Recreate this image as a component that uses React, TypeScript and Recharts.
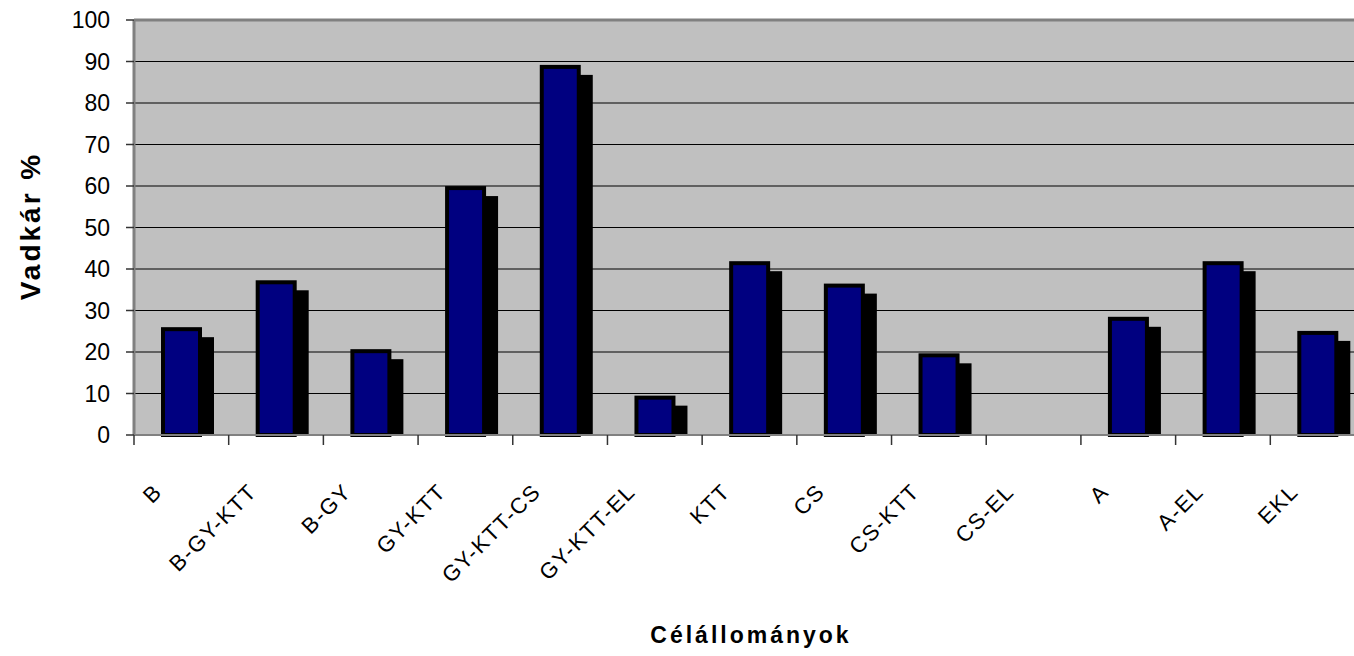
import React from 'react';
import { BarChart, Bar, XAxis, YAxis, CartesianGrid, ReferenceLine, Label, Text } from 'recharts';

const categories = ['B', 'B-GY-KTT', 'B-GY', 'GY-KTT', 'GY-KTT-CS', 'GY-KTT-EL', 'KTT', 'CS', 'CS-KTT', 'CS-EL', 'A', 'A-EL', 'EKL'];
const damage = [25.5, 36.8, 20.2, 59.5, 88.7, 9, 41.4, 36, 19.2, 0, 28, 41.4, 24.6];
const yTicks = [0, 10, 20, 30, 40, 50, 60, 70, 80, 90, 100];

const yTitle = 'Vadkár %';
const xTitle = 'Célállományok';

const data = categories.map((name, i) => ({ name, value: damage[i] }));

const FONT = '"Liberation Sans", Arial, sans-serif';
const STEP = 94.7; // category width in px

// excel-style bar: navy with black border and a black drop shadow to the right
const ShadowBar = (props: any) => {
  const { x, y, width, height } = props;
  if (!height || height <= 0) return <g />;
  return (
    <g>
      <rect x={x + 14} y={y + 8} width={width} height={Math.max(height - 8, 0)} fill="#000" />
      <rect x={x} y={y} width={width} height={height} fill="#000080" stroke="#000" strokeWidth={4} />
    </g>
  );
};

const CategoryTick = (props: any) => {
  const { x, y, payload } = props;
  return (
    <g>
      <line x1={x - STEP / 2} y1={y} x2={x - STEP / 2} y2={y + 10} stroke="#333" strokeWidth={1.5} />
      <Text
        x={x - 18}
        y={y + 58}
        angle={-45}
        textAnchor="end"
        verticalAnchor="end"
        fill="#000"
        fontSize={22}
        fontFamily={FONT}
        letterSpacing={1.5}
      >
        {payload.value}
      </Text>
    </g>
  );
};

export default function App() {
  return (
    <div style={{ position: 'fixed', left: 0, top: 0, width: 1354, height: 656, overflow: 'hidden', background: '#fff' }}>
      <BarChart
        width={1380}
        height={656}
        data={data}
        margin={{ top: 20, right: 15, left: 34, bottom: 21 }}
        barSize={37}
      >
        <CartesianGrid horizontal vertical={false} stroke="#000" fill="#C0C0C0" fillOpacity={1} />
        <XAxis
          dataKey="name"
          height={200}
          interval={0}
          tickLine={false}
          tickSize={0}
          tickMargin={0}
          axisLine={{ stroke: '#808080', strokeWidth: 2 }}
          tick={<CategoryTick />}
        >
          <Label
            content={() => (
              <text x={751} y={643} textAnchor="middle" fill="#000" style={{ fontSize: 23, fontWeight: 'bold', letterSpacing: 3, fontFamily: FONT }}>
                {xTitle}
              </text>
            )}
          />
        </XAxis>
        <YAxis
          width={100}
          domain={[0, 100]}
          ticks={yTicks}
          interval={0}
          tickSize={8}
          tickMargin={16}
          tickLine={{ stroke: '#333', strokeWidth: 1.5 }}
          axisLine={{ stroke: '#808080', strokeWidth: 3 }}
          tick={{ fill: '#000', fontSize: 23, fontFamily: FONT }}
        >
          <Label
            content={() => (
              <g transform="translate(40, 226) rotate(-90)">
                <text x={0} y={0} textAnchor="middle" fill="#000" style={{ fontSize: 28, fontWeight: 'bold', letterSpacing: 3, fontFamily: FONT }}>
                  {yTitle}
                </text>
              </g>
            )}
          />
        </YAxis>
        <ReferenceLine y={100} stroke="#808080" strokeWidth={3} />
        <Bar dataKey="value" shape={<ShadowBar />} isAnimationActive={false} />
      </BarChart>
    </div>
  );
}
